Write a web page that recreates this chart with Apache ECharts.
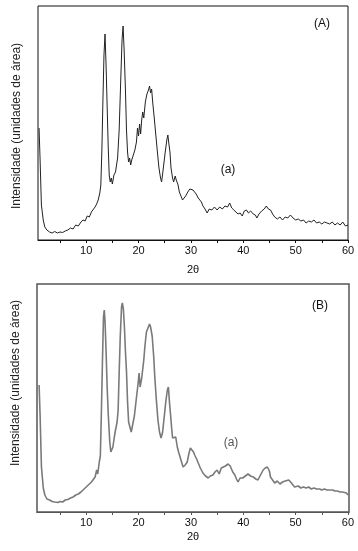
<!DOCTYPE html>
<html><head><meta charset="utf-8">
<script src="https://cdn.jsdelivr.net/npm/echarts@6/dist/echarts.min.js"></script>
<style>html,body{margin:0;padding:0;background:#fff}#c{width:358px;height:551px}</style>
</head><body><div id="c"></div>
<script>
// Panel (A)
var thetaA = [1.0,1.2,1.45,1.8,2.1,2.5,3.0,3.5,4.0,4.5,5.0,5.5,6.0,6.5,7.0,7.5,8.0,8.5,9.0,9.4,9.8,10.2,10.6,11.0,11.3,11.7,12.0,12.3,12.6,12.8,13.0,13.2,13.4,13.6,13.8,14.0,14.2,14.4,14.6,14.8,15.0,15.3,15.6,16.0,16.3,16.6,16.85,17.05,17.25,17.5,17.7,17.9,18.1,18.3,18.5,18.7,19.0,19.3,19.6,19.8,20.0,20.2,20.4,20.6,20.8,21.0,21.3,21.6,21.9,22.1,22.3,22.5,22.7,23.0,23.3,23.6,23.9,24.2,24.4,24.6,24.8,25.1,25.4,25.6,25.8,26.0,26.2,26.5,26.7,27.0,27.2,27.5,27.8,28.1,28.4,28.7,29.0,29.4,29.8,30.1,30.4,30.7,31.0,31.4,31.7,32.0,32.3,32.7,33.1,33.5,34.0,34.5,35.0,35.5,36.0,36.5,37.0,37.4,37.8,38.2,38.6,39.0,39.4,39.8,40.2,40.6,41.0,41.4,41.9,42.3,42.6,43.0,43.5,44.0,44.4,44.8,45.2,45.6,46.0,46.5,47.0,47.5,48.0,48.5,49.0,49.5,50.0,50.5,51.0,51.5,52.0,52.5,53.0,53.5,54.0,54.5,55.0,55.5,56.0,56.5,57.0,57.5,58.0,58.5,59.0,59.5,60.0];
var intA = [112,80,35,20,13,10,8,7,8.5,7,8,7.5,9,10,12,11,15,14,18,20,19,24,23,28,30,33,36,40,47,55,90,140,185,206,175,135,95,65,58,62,56,65,68,82,110,160,200,214,190,150,110,88,78,82,75,80,82,90,98,112,104,116,106,120,128,122,138,146,150,154,147,151,138,122,105,88,72,62,58,66,75,88,100,105,96,88,72,62,58,64,60,56,48,44,40,42,44,48,51,53,50,48,46,42,40,38,34,31,27,31,30,33,30,33,31,34,33,37,32,30,28,26,27,24,29,30,27,29,26,25,22,26,29,31,34,31,30,26,23,21,23,20,23,22,25,22,20,21,19,20,17,19,18,20,17,18,16,18,17,16,18,15,17,15,18,14,15];
// Panel (B)
var thetaB = [1.0,1.2,1.45,1.8,2.1,2.5,3.0,3.5,4.0,4.6,5.0,5.5,6.0,6.5,7.0,7.5,8.0,8.5,9.0,9.4,9.8,10.2,10.6,11.0,11.3,11.7,12.0,12.2,12.5,12.7,12.9,13.1,13.3,13.45,13.6,13.8,14.0,14.2,14.5,14.7,14.9,15.1,15.4,15.6,15.9,16.1,16.3,16.5,16.75,16.9,17.1,17.3,17.5,17.7,17.9,18.1,18.4,18.6,18.9,19.2,19.5,19.7,19.9,20.1,20.3,20.6,20.8,21.0,21.2,21.5,21.8,22.1,22.3,22.6,22.9,23.1,23.4,23.7,24.0,24.3,24.6,24.9,25.2,25.5,25.7,25.9,26.1,26.3,26.5,26.8,27.1,27.4,27.7,28.1,28.5,28.9,29.3,29.6,29.9,30.2,30.5,30.8,31.1,31.4,31.8,32.3,32.8,33.3,33.7,34.2,34.6,35.0,35.4,35.8,36.1,36.6,37.1,37.5,38.0,38.4,38.7,39.0,39.4,39.9,40.4,40.9,41.4,41.9,42.4,42.8,43.3,43.8,44.2,44.6,45.0,45.2,45.6,46.0,46.5,47.0,47.5,48.0,48.7,49.2,49.8,50.5,51.0,51.5,52.0,52.5,53.0,53.5,54.0,54.6,55.0,55.5,56.0,56.5,57.1,57.5,58.0,58.5,59.0,59.7,60.0];
var intB = [127,95,45,24,17,13,12,10.5,10,9.5,10.5,10,12,12.5,14,15,17,18,20,22,24,26,28,30,32,35,42,38,50,56,100,150,195,202,190,160,125,99,70,60,62,65,76,82,90,102,140,175,205,209,203,185,160,140,110,90,84,80,88,96,110,119,128,139,125,134,143,152,165,180,184,188,185,176,155,135,112,92,80,74,80,95,110,122,125,110,98,85,74,76,75,65,59,52,45,47,50,58,64,63,60,56,53,49,44,39,36,34,36,37,40,42,38,44,44,46,48,46,40,37,33,30,34,34,36,38,36,35,33,32,37,42,44,45,41,35,32,29,31,28,30,31,32,29,25,26,24,25,24,25,23,24,23,23,22,23,22,22,22,21,21,20,20,19,17];
var tickValues = [5,10,15,20,25,30,35,40,45,50,55,60];
var labelValues = [10,20,30,40,50,60];

function pairs(xs, ys){ return xs.map(function(x,i){ return [x, ys[i]]; }); }

var chart = echarts.init(document.getElementById('c'), null, {renderer:'canvas'});
var FONT = 'Liberation Sans, Arial, sans-serif';
function xAx(idx, min, max, col){
  return {
    type:'value', gridIndex: idx, min:min, max:max,
    axisLine:{show:true, onZero:false, lineStyle:{color:col, width:1}},
    axisTick:{show:true, customValues: tickValues, length:3, lineStyle:{color:col}},
    axisLabel:{show:true, customValues: labelValues, color:'#111', fontSize:11, fontFamily:FONT, margin:5},
    splitLine:{show:false}
  };
}
function yAx(idx, max){
  return {type:'value', gridIndex: idx, min:0, max:max, axisLine:{show:false}, axisTick:{show:false}, axisLabel:{show:false}, splitLine:{show:false}};
}
chart.setOption({
  animation:false,
  backgroundColor:'#fff',
  grid:[
    {left:38, width:310, top:6, height:234, show:true, borderColor:'#111', borderWidth:1, backgroundColor:'transparent'},
    {left:37, width:312, top:284, height:228, show:true, borderColor:'#555', borderWidth:1.5, backgroundColor:'transparent'}
  ],
  xAxis:[xAx(0,0.8,60,'#111'), xAx(1,0.6,60.2,'#555')],
  yAxis:[yAx(0,234), yAx(1,228)],
  series:[
    {type:'line', xAxisIndex:0, yAxisIndex:0, data:pairs(thetaA,intA), showSymbol:false, lineStyle:{color:'#222', width:1}},
    {type:'line', xAxisIndex:1, yAxisIndex:1, data:pairs(thetaB,intB), showSymbol:false, lineStyle:{color:'#7a7a7a', width:1.6}}
  ],
  graphic:[
    {type:'text', x:16.7, y:126, rotation:Math.PI/2, style:{text:'Intensidade (unidades de área)', font:'12px '+FONT, fill:'#222', align:'center', verticalAlign:'middle'}},
    {type:'text', x:16, y:383, rotation:Math.PI/2, style:{text:'Intensidade (unidades de área)', font:'12px '+FONT, fill:'#222', align:'center', verticalAlign:'middle'}},
    {type:'text', x:193, y:270, style:{text:'2θ', font:'11px '+FONT, fill:'#111', align:'center', verticalAlign:'middle'}},
    {type:'text', x:193, y:537, style:{text:'2θ', font:'11px '+FONT, fill:'#111', align:'center', verticalAlign:'middle'}},
    {type:'text', x:322, y:24, style:{text:'(A)', font:'12px '+FONT, fill:'#111', align:'center', verticalAlign:'middle'}},
    {type:'text', x:228, y:170, style:{text:'(a)', font:'12px '+FONT, fill:'#111', align:'center', verticalAlign:'middle'}},
    {type:'text', x:320, y:306, style:{text:'(B)', font:'12px '+FONT, fill:'#111', align:'center', verticalAlign:'middle'}},
    {type:'text', x:231, y:443, style:{text:'(a)', font:'12px '+FONT, fill:'#555', align:'center', verticalAlign:'middle'}}
  ]
});
</script></body></html>
